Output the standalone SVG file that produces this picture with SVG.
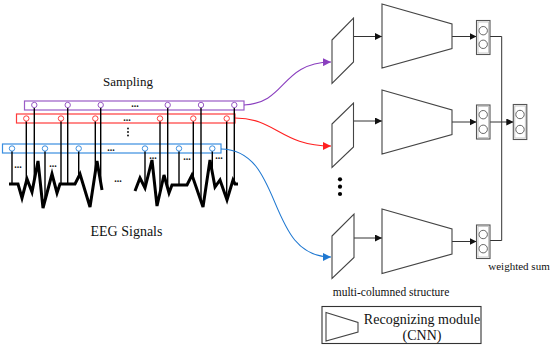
<svg xmlns="http://www.w3.org/2000/svg" width="550" height="352" viewBox="0 0 550 352">
<style>
text{font-family:"Liberation Serif","Times New Roman",serif;fill:#111}
.dots{font-family:"Liberation Serif",serif;font-weight:bold;font-size:10px;text-anchor:middle}
.sig{fill:none;stroke:#000;stroke-width:3;stroke-linejoin:miter}
.vl{stroke:#000;stroke-width:1.4}
.pc{fill:#fff;stroke:#9a5cc6;stroke-width:1}
.rc{fill:#fff;stroke:#ff3b3b;stroke-width:1}
.bc{fill:#fff;stroke:#3a8ee0;stroke-width:1}
.shape{fill:#fff;stroke:#444;stroke-width:1.1}
.arr{stroke:#333;stroke-width:1;fill:none;marker-end:url(#ah)}
.box{fill:#fff;stroke:#555;stroke-width:1.1}
.boxin{fill:none;stroke:#bbb;stroke-width:0.8}
.cir{fill:#fff;stroke:#555;stroke-width:0.9}
</style>
<defs>
<marker id="ah" viewBox="0 0 10 10" refX="10" refY="5" markerWidth="7" markerHeight="7" markerUnits="userSpaceOnUse" orient="auto"><path d="M0,0 L10,5 L0,10 z" fill="#111"/></marker>
<marker id="ahp" viewBox="0 0 10 10" refX="10" refY="5" markerWidth="8" markerHeight="8" markerUnits="userSpaceOnUse" orient="auto"><path d="M0,0 L10,5 L0,10 z" fill="#8a3fbf"/></marker>
<marker id="ahr" viewBox="0 0 10 10" refX="10" refY="5" markerWidth="8" markerHeight="8" markerUnits="userSpaceOnUse" orient="auto"><path d="M0,0 L10,5 L0,10 z" fill="#ff2020"/></marker>
<marker id="ahb" viewBox="0 0 10 10" refX="10" refY="5" markerWidth="8" markerHeight="8" markerUnits="userSpaceOnUse" orient="auto"><path d="M0,0 L10,5 L0,10 z" fill="#1f78d1"/></marker>
</defs>

<g id="eeg-signals">
<polyline class="sig" points="9,184 18,184 22,198 27,179 32,192 38,161 43,208 52,174 57,193 60,184 75,184 80,174 90,207 97,161 102,190"/>
<polyline class="sig" points="135,191 140,178 145,188 152,160 157,206 164,175 169,193 172,185 187,185 192,175 203,207 210,160 215,187 220,180 227,200 233,180 235,184 238,184"/>
<text class="dots" x="118" y="182">...</text>
<text class="dots" x="18" y="168">...</text>
<text class="dots" x="53" y="167">...</text>
<text class="dots" x="153" y="159">...</text>
<text class="dots" x="187" y="160">...</text>
<text class="dots" x="219" y="159">...</text>
<text x="126.5" y="236" font-size="14" text-anchor="middle">EEG Signals</text>
</g>

<g id="sampling">
<text x="128" y="86" font-size="13" text-anchor="middle">Sampling</text>
<rect x="24.5" y="101" width="219.5" height="9" fill="#fff" stroke="#9a5cc6" stroke-width="1.2"/>
<rect x="16.5" y="114" width="218.5" height="9" fill="#fff" stroke="#ff3b3b" stroke-width="1.2"/>
<rect x="2.5" y="144" width="218.5" height="9" fill="#fff" stroke="#3a8ee0" stroke-width="1.2"/>
<g>
<line class="vl" x1="34.3" y1="107.5" x2="34.3" y2="180"/>
<line class="vl" x1="67.7" y1="107.5" x2="67.7" y2="184"/>
<line class="vl" x1="100.7" y1="107.5" x2="100.7" y2="184"/>
<line class="vl" x1="167.7" y1="107.5" x2="167.7" y2="188"/>
<line class="vl" x1="201" y1="107.5" x2="201" y2="201"/>
<line class="vl" x1="234.3" y1="107.5" x2="234.3" y2="184"/>
<line class="vl" x1="26.3" y1="121" x2="26.3" y2="182"/>
<line class="vl" x1="61" y1="121" x2="61" y2="184"/>
<line class="vl" x1="95.3" y1="121" x2="95.3" y2="172"/>
<line class="vl" x1="160" y1="121" x2="160" y2="193"/>
<line class="vl" x1="193.3" y1="121" x2="193.3" y2="179"/>
<line class="vl" x1="226.7" y1="121" x2="226.7" y2="199"/>
<line class="vl" x1="12" y1="151" x2="12" y2="184"/>
<line class="vl" x1="45" y1="151" x2="45" y2="200"/>
<line class="vl" x1="78.7" y1="151" x2="78.7" y2="177"/>
<line class="vl" x1="145" y1="151" x2="145" y2="188"/>
<line class="vl" x1="179" y1="151" x2="179" y2="185"/>
<line class="vl" x1="212.3" y1="151" x2="212.3" y2="172"/>
</g>
<circle class="pc" cx="34.3" cy="105" r="2.7"/><circle class="pc" cx="67.7" cy="105" r="2.7"/><circle class="pc" cx="100.7" cy="105" r="2.7"/><circle class="pc" cx="167.7" cy="105" r="2.7"/><circle class="pc" cx="201" cy="105" r="2.7"/><circle class="pc" cx="234.3" cy="105" r="2.7"/>
<circle class="rc" cx="26.3" cy="118.5" r="2.7"/><circle class="rc" cx="61" cy="118.5" r="2.7"/><circle class="rc" cx="95.3" cy="118.5" r="2.7"/><circle class="rc" cx="160" cy="118.5" r="2.7"/><circle class="rc" cx="193.3" cy="118.5" r="2.7"/><circle class="rc" cx="226.7" cy="118.5" r="2.7"/>
<circle class="bc" cx="12" cy="148.5" r="2.7"/><circle class="bc" cx="45" cy="148.5" r="2.7"/><circle class="bc" cx="78.7" cy="148.5" r="2.7"/><circle class="bc" cx="145" cy="148.5" r="2.7"/><circle class="bc" cx="179" cy="148.5" r="2.7"/><circle class="bc" cx="212.3" cy="148.5" r="2.7"/>
<text class="dots" x="135" y="107">...</text>
<text class="dots" x="127" y="120.5">...</text>
<text class="dots" x="111" y="150.5">...</text>
<circle cx="128" cy="128.5" r="0.9" fill="#000"/><circle cx="128" cy="132" r="0.9" fill="#000"/><circle cx="128" cy="135.5" r="0.9" fill="#000"/>
</g>

<g id="connectors">
<path d="M244,105 C287,103 280,63 331,62" fill="none" stroke="#8a3fbf" stroke-width="1.1" marker-end="url(#ahp)"/>
<path d="M235,118 C276,118 281,146 331,146" fill="none" stroke="#ff2020" stroke-width="1.1" marker-end="url(#ahr)"/>
<path d="M221,149 C285,150 265,257 331,257" fill="none" stroke="#1f78d1" stroke-width="1.1" marker-end="url(#ahb)"/>
<line class="arr" x1="354" y1="36.5" x2="382" y2="36.5"/>
<line class="arr" x1="452" y1="36.5" x2="476.5" y2="36.5"/>
<line class="arr" x1="354" y1="121" x2="382" y2="121"/>
<line class="arr" x1="452" y1="122" x2="476.5" y2="122"/>
<line class="arr" x1="354" y1="238" x2="382" y2="238"/>
<line class="arr" x1="452" y1="241.5" x2="476.5" y2="241.5"/>
<polyline points="490,36.5 501.7,36.5 501.7,240.5 490,240.5" fill="none" stroke="#333" stroke-width="1"/>
<line class="arr" x1="490" y1="122" x2="513.3" y2="122"/>
</g>

<g id="column1">
<polygon class="shape" points="332,40 353.5,18 353.5,62 332,83.5"/>
<polygon class="shape" points="382,4 452,24 452,48.5 382,68"/>
<rect class="box" x="476.5" y="20.5" width="13.5" height="34"/><rect class="boxin" x="478" y="22" width="10.5" height="31"/>
<circle class="cir" cx="483.2" cy="30.7" r="4.2"/><circle class="cir" cx="483.2" cy="44.3" r="4.2"/>
</g>
<g id="column2">
<polygon class="shape" points="332,124 353.5,103 353.5,147 332,167.5"/>
<polygon class="shape" points="382,90 452,110 452,134.5 382,154"/>
<rect class="box" x="476.5" y="105" width="13.5" height="34"/><rect class="boxin" x="478" y="106.5" width="10.5" height="31"/>
<circle class="cir" cx="483.2" cy="114.7" r="4.2"/><circle class="cir" cx="483.2" cy="129.3" r="4.2"/>
</g>
<g id="column-dots">
<circle cx="340" cy="179.3" r="2.1" fill="#000"/><circle cx="340" cy="186.7" r="2.1" fill="#000"/><circle cx="340" cy="194" r="2.1" fill="#000"/>
</g>
<g id="column3">
<polygon class="shape" points="332,236 354,214 354,257.5 332,278.5"/>
<polygon class="shape" points="382,209 452,229 452,254 382,273.5"/>
<rect class="box" x="476.5" y="225" width="13.5" height="33.5"/><rect class="boxin" x="478" y="226.5" width="10.5" height="30.5"/>
<circle class="cir" cx="483.2" cy="234.5" r="4.2"/><circle class="cir" cx="483.2" cy="248.7" r="4.2"/>
<text x="391" y="296" font-size="11.5" text-anchor="middle">multi-columned structure</text>
</g>
<g id="weighted-sum">
<rect class="box" x="513.3" y="104.5" width="13.5" height="35"/><rect class="boxin" x="514.8" y="106" width="10.5" height="32"/>
<circle class="cir" cx="520" cy="114.5" r="4.2"/><circle class="cir" cx="520" cy="129.5" r="4.2"/>
<text x="519" y="270" font-size="11" text-anchor="middle">weighted sum</text>
</g>
<g id="legend">
<rect x="322" y="306.5" width="159" height="37" fill="#fff" stroke="#333" stroke-width="1.1"/>
<polygon class="shape" points="326,312.5 358,322.5 358,332 326,341"/>
<text x="422" y="324" font-size="14" text-anchor="middle">Recognizing module</text>
<text x="422" y="339.5" font-size="14" text-anchor="middle">(CNN)</text>
</g>
</svg>
